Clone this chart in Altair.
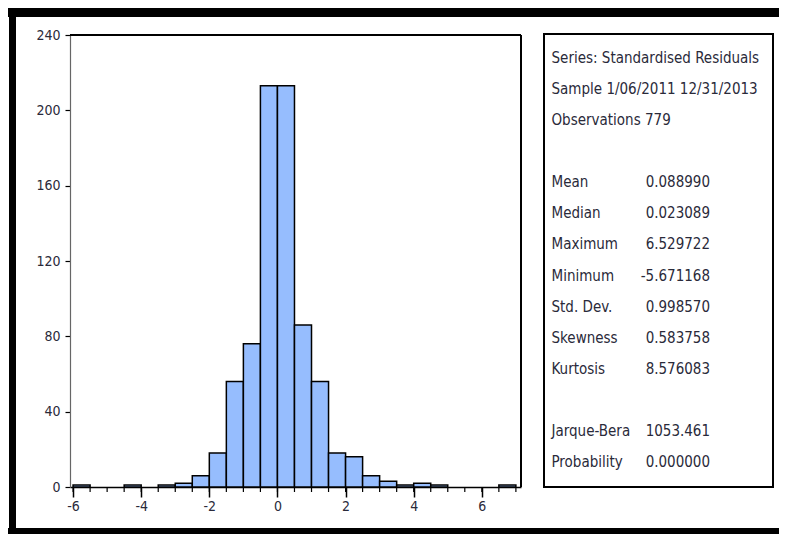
import altair as alt
import pandas as pd

# ---- data ----
bin_starts = [-6.0, -5.5, -5.0, -4.5, -4.0, -3.5, -3.0, -2.5, -2.0, -1.5, -1.0, -0.5,
              0.0, 0.5, 1.0, 1.5, 2.0, 2.5, 3.0, 3.5, 4.0, 4.5, 5.0, 5.5, 6.0, 6.5]
counts = [1, 0, 0, 1, 0, 1, 2, 6, 18, 56, 76, 213,
          213, 86, 56, 18, 16, 6, 3, 1, 2, 1, 0, 0, 0, 1]
bin_width = 0.5
major_ticks = [-6, -4, -2, 0, 2, 4, 6]
minor_ticks = [-6.0, -5.5, -5.0, -4.5, -4.0, -3.5, -3.0, -2.5, -2.0, -1.5, -1.0, -0.5, 0.0,
               0.5, 1.0, 1.5, 2.0, 2.5, 3.0, 3.5, 4.0, 4.5, 5.0, 5.5, 6.0, 6.5, 7.0]
y_ticks = [0, 40, 80, 120, 160, 200, 240]

header_lines = ["Series: Standardised Residuals", "Sample 1/06/2011 12/31/2013", "Observations 779"]
stat_names = ["Mean", "Median", "Maximum", "Minimum", "Std. Dev.", "Skewness", "Kurtosis"]
stat_values = ["0.088990", "0.023089", "6.529722", "-5.671168", "0.998570", "0.583758", "8.576083"]
test_names = ["Jarque-Bera", "Probability"]
test_values = ["1053.461", "0.000000"]

# ---- styling ----
FONT = "DejaVu Sans Condensed, Liberation Sans Narrow, Arial Narrow, sans-serif"
TXT = "#2a2a3a"
BAR_FILL = "#96BDFE"
W, H = 451, 452
PAD = {"left": 62, "top": 27, "right": 258, "bottom": 47}
TOTAL_W = PAD["left"] + W + PAD["right"]   # 771
TOTAL_H = PAD["top"] + H + PAD["bottom"]   # 526

df = pd.DataFrame({"start": bin_starts, "count": counts})
df["end"] = df["start"] + bin_width

xscale = alt.Scale(domain=[-6.09, 7.15], nice=False, zero=False)
yscale = alt.Scale(domain=[0, 240], nice=False)

one = alt.Data(values=[{"k": 1}])


def box(x1, x2, y1, y2, **kw):
    return alt.Chart(one).mark_rect(**kw).encode(
        x=alt.value(x1), x2=alt.value(x2), y=alt.value(y1), y2=alt.value(y2))


def label(s, x, y, align="left", size=15):
    return alt.Chart(alt.Data(values=[{"t": s}])).mark_text(
        align=align, baseline="middle", font=FONT, fontSize=size, color=TXT
    ).encode(x=alt.value(x), y=alt.value(y), text="t:N")


bars = alt.Chart(df).transform_filter("datum.count > 0").mark_rect(
    fill=BAR_FILL, stroke="black", strokeWidth=1.5
).encode(
    x=alt.X("start:Q", scale=xscale, title=None,
            axis=alt.Axis(values=major_ticks, tickSize=10, tickColor="black", tickWidth=1.5,
                          domainColor="black", domainWidth=1.5, grid=False,
                          labelExpr="'' + datum.value", labelFont=FONT, labelFontSize=14,
                          labelColor=TXT, labelPadding=2)),
    x2="end:Q",
    y=alt.Y("count:Q", scale=yscale, title=None,
            axis=alt.Axis(values=y_ticks, tickSize=5, tickColor="black", tickWidth=1.2,
                          domainColor="#666666", domainWidth=1.2, grid=False,
                          labelFont=FONT, labelFontSize=14, labelColor=TXT, labelPadding=5)),
    y2=alt.datum(0),
)

minor = alt.Chart(pd.DataFrame({"v": minor_ticks})).mark_rule(
    color="black", strokeWidth=1.2
).encode(x=alt.X("v:Q", scale=xscale, title=None), y=alt.value(H), y2=alt.value(H + 5))

# plot border (top and right)
top_line = box(0, W, -1, 1, fill="black")
right_line = box(W - 1, W + 1, 0, H, fill="black")

# outer frame (top, left, bottom bars)
x_min, x_max = -PAD["left"], TOTAL_W - PAD["left"]
y_min, y_max = -PAD["top"], TOTAL_H - PAD["top"]
frame_top = box(x_min, x_max, y_min, y_min + 9, fill="black")
frame_left = box(x_min + 1, x_min + 8, y_min, y_max, fill="black")
frame_bottom = box(x_min, x_max, y_max - 6, y_max, fill="black")

# stats box
sx0, sx1, sy0, sy1 = 474, 703, -1, 452
stats_box = box(sx0, sx1, sy0, sy1, fill="white", stroke="black", strokeWidth=2)

row0 = 58.3 - 35
step = 31.03
lx = 481.5
vx = 640
texts = []
for i, s in enumerate(header_lines):
    texts.append(label(s, lx, row0 + i * step))
for i, (n, v) in enumerate(zip(stat_names, stat_values)):
    y = row0 + (4 + i) * step
    texts.append(label(n, lx, y))
    texts.append(label(v, vx, y, align="right"))
for i, (n, v) in enumerate(zip(test_names, test_values)):
    y = row0 + (12 + i) * step
    texts.append(label(n, lx, y))
    texts.append(label(v, vx, y, align="right"))

chart = alt.layer(
    frame_top, frame_left, frame_bottom, stats_box, bars, minor, top_line, right_line, *texts
).properties(
    width=W, height=H,
    autosize=alt.AutoSizeParams(type="none"),
    padding=PAD,
    background="white",
).configure_view(stroke=None)

chart.save("out.html", embed_options={"renderer": "svg", "actions": False})
